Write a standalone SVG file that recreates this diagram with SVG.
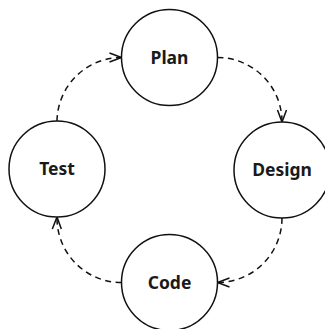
<svg xmlns="http://www.w3.org/2000/svg" width="325" height="329" viewBox="0 0 325 329">
<style>
.node circle{fill:#fff;stroke:#111;stroke-width:1.5}
.node text{font-family:"Noto Sans","Open Sans","DejaVu Sans",sans-serif;font-weight:700;font-size:17.5px;fill:#1a1a1a;text-anchor:middle}
.edge{fill:none;stroke:#111;stroke-width:1.5;stroke-dasharray:6 4.5;marker-end:url(#arr)}
</style>
<defs>
<marker id="arr" markerUnits="userSpaceOnUse" viewBox="-14 -7 16 14" markerWidth="16" markerHeight="14" refX="0" refY="0" orient="auto" overflow="visible">
<path d="M-12,-4.5 L0,0 L-12,4.5" fill="none" stroke="#111" stroke-width="1.5"/>
</marker>
</defs>
<rect width="325" height="329" fill="#fff"/>
<g id="connectors">
<path class="edge" d="M217.5,57.5 A64.5,64.5 0 0 1 282,122"/>
<path class="edge" d="M282,218 A64.5,64.5 0 0 1 217.5,282.5"/>
<path class="edge" d="M121.5,282.5 A64.5,64.5 0 0 1 57,217"/>
<path class="edge" d="M57,121 A64.5,64.5 0 0 1 121.5,57.5"/>
</g>
<g id="plan" class="node"><circle cx="169.5" cy="57.5" r="48"/><text x="169.5" y="63.8">Plan</text></g>
<g id="design" class="node"><circle cx="282" cy="170" r="48"/><text x="282" y="176.3">Design</text></g>
<g id="code" class="node"><circle cx="169.5" cy="282.5" r="48"/><text x="169.5" y="288.8">Code</text></g>
<g id="test" class="node"><circle cx="57" cy="169" r="48"/><text x="57" y="175.3">Test</text></g>
</svg>
